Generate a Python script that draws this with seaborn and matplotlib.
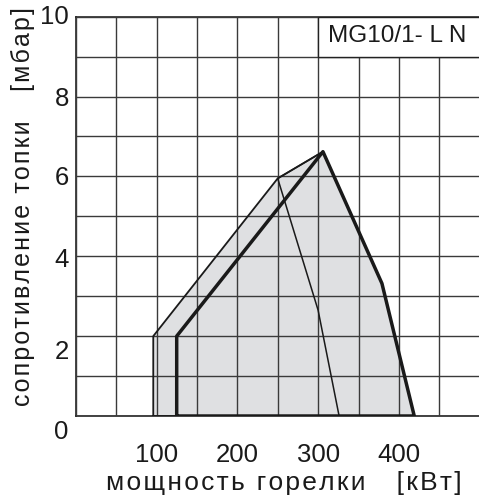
import matplotlib
matplotlib.use("Agg")
import matplotlib.pyplot as plt
import seaborn as sns
import pandas as pd

# область работы горелки (тонкий контур, залитый серым)
outer_x = [96, 96, 250, 306, 379, 419, 96]
outer_y = [0, 2.0, 5.95, 6.62, 3.32, 0, 0]

# рабочее поле (толстый контур)
main_x = [125, 125, 306, 379, 419, 125]
main_y = [0, 2.0, 6.62, 3.32, 0, 0]

# внутренняя тонкая линия
inner_x = [306, 250, 300, 326]
inner_y = [6.62, 5.95, 2.65, 0]

x_ticks = [100, 200, 300, 400]
y_labels = ['10', '8', '6', '4', '2', '0']
y_label_pos = [10, 7.95, 5.95, 3.9, 1.6, -0.4]

model = 'MG10/1- L N'
x_title = 'мощность горелки   [кВт]'
y_title = 'сопротивление топки   [мбар]'


def spaced(s, sp='\u200a'):
    # разрядка букв, как в оригинале
    return sp.join(s)


sns.set_theme(style='white')
plt.rcParams['font.family'] = ['Liberation Sans', 'DejaVu Sans']
ink = '#1a1a1a'

fig = plt.figure(figsize=(4.79, 4.99), dpi=100)
ax = fig.add_axes([75.7 / 479, 1 - 416 / 499, 404 / 479, (416 - 16.7) / 499])

ax.set_xlim(0, 500)
ax.set_ylim(0, 10)

# сетка
ax.set_xticks(x_ticks)
ax.set_xticks(range(0, 501, 50), minor=True)
ax.set_yticks(range(0, 11), minor=True)
ax.set_yticks([])
ax.grid(which='both', color='#3a3a3a', linewidth=1.0)
ax.set_axisbelow(False)
ax.tick_params(which='both', length=0)

ax.set_xticklabels([str(v) for v in x_ticks], fontsize=18.5, color=ink)
ax.tick_params(axis='x', pad=19.5)
for lab, yp in zip(y_labels, y_label_pos):
    ax.text(-0.017, yp, lab, transform=ax.get_yaxis_transform(), ha='right',
            va='center', fontsize=18.5, color=ink, clip_on=False)

for side in ['left', 'top', 'bottom']:
    ax.spines[side].set_color('#222222')
    ax.spines[side].set_linewidth(1.2)
ax.spines['right'].set_visible(False)

# заливка и контуры
ax.fill(outer_x, outer_y, color='#dfe0e2', zorder=0.5, lw=0)
df_outer = pd.DataFrame({'x': outer_x, 'y': outer_y})
df_main = pd.DataFrame({'x': main_x, 'y': main_y})
df_inner = pd.DataFrame({'x': inner_x, 'y': inner_y})
sns.lineplot(data=df_outer, x='x', y='y', sort=False, estimator=None, ax=ax,
             color=ink, linewidth=1.3, zorder=3)
sns.lineplot(data=df_inner, x='x', y='y', sort=False, estimator=None, ax=ax,
             color=ink, linewidth=1.1, zorder=3)
sns.lineplot(data=df_main, x='x', y='y', sort=False, estimator=None, ax=ax,
             color=ink, linewidth=2.5, zorder=4)
ax.set_xlabel('')
ax.set_ylabel('')

# подпись модели
ax.add_patch(plt.Rectangle((300, 9), 200, 1, facecolor='white', edgecolor='#222222',
                           linewidth=1.0, zorder=2.6))
ax.text(398, 9.52, model, ha='center', va='center', fontsize=17.5, color=ink, zorder=5)

fig.text(283.5 / 479, 1 - 483 / 499, spaced(x_title), ha='center', va='center',
         fontsize=19, color=ink)
fig.text(23 / 479, 1 - 207 / 499, spaced(y_title), ha='center', va='center',
         rotation=90, fontsize=18, color=ink)

fig.savefig('out.png', dpi=100)
